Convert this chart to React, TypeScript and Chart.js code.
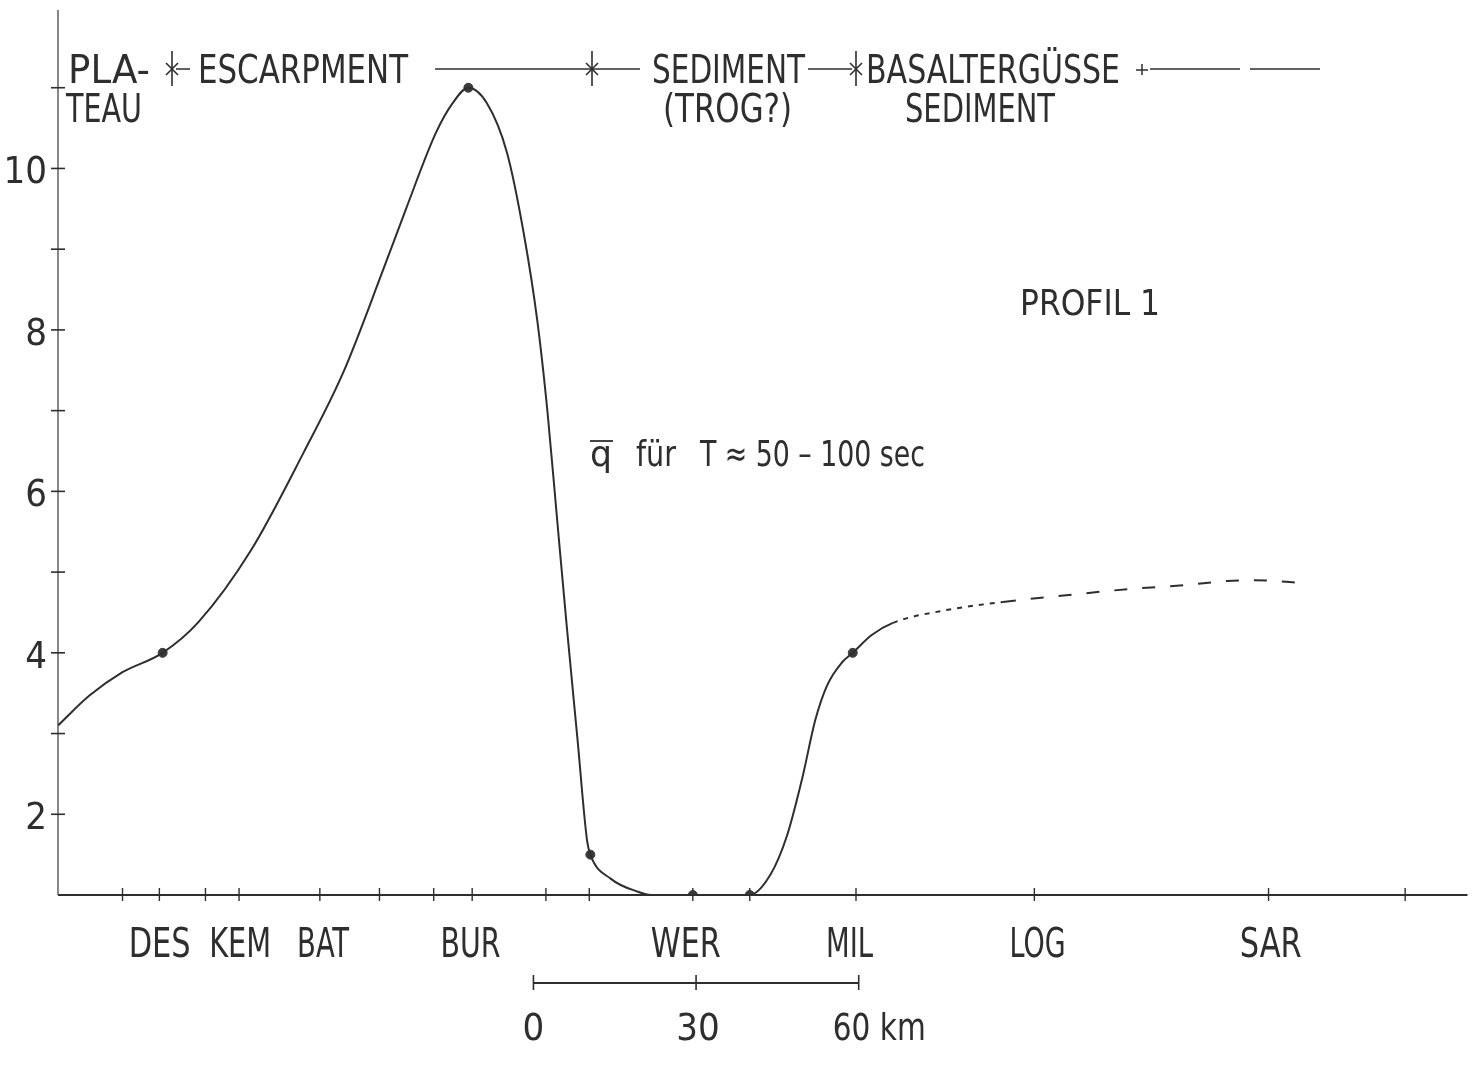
import React, { useEffect, useRef } from "react";
import { Chart, registerables } from "chart.js";

Chart.register(...registerables);

// ---- data (distance along profile in km, q-bar values) ----
const distanceKm = [
  0, 5.8, 11.9, 19.3, 25.9, 35.6, 45.3, 52.6, 59.9, 64.2, 69.7, 72.7, 75.7,
  79.1, 82.8, 85.9, 88.4, 90.3, 92.1, 93.9, 95.8, 97.6, 98.2, 102.0, 107.0,
  109.4, 117.1, 127.6, 131.4, 134.5, 137.3, 139.7, 141.9, 144.6, 146.6, 150.1, 154.0,
  163.1, 174.3, 185.5, 197.6, 208.1, 215.6, 220.8, 228.3,
];
const qValues = [
  3.1, 3.47, 3.76, 4.0, 4.38, 5.27, 6.48, 7.47, 8.73, 9.5, 10.44, 10.8, 11.0,
  10.81, 10.2, 9.2, 8.12, 6.98, 5.63, 4.29, 2.95, 1.67, 1.5, 1.2, 1.04,
  1.0, 1.0, 1.0, 1.25, 1.74, 2.45, 3.17, 3.6, 3.88, 4.0, 4.22, 4.37,
  4.52, 4.63, 4.71, 4.79, 4.84, 4.89, 4.9, 4.87,
];
const markerKm = [19.3, 75.7, 98.2, 117.1, 127.6, 146.6];
const markerQ = [4.0, 11.0, 1.5, 1.0, 1.0, 4.0];
const dottedFromKm = 154.0;
const dashedFromKm = 174.0;

const xTickKm = [11.9, 18.7, 27.2, 33.4, 48.3, 59.3, 69.3, 76.4, 90.0, 98.0, 117.1, 127.6, 147.2, 180.1, 223.3, 248.5];
const stationNames = ["DES", "KEM", "BAT", "BUR", "WER", "MIL", "LOG", "SAR"];
const stationKm = [18.75, 33.6, 48.9, 76.1, 115.8, 146.0, 180.7, 223.7];
const yTickValues = [2, 3, 4, 5, 6, 7, 8, 9, 10, 11];
const yLabelValues = [2, 4, 6, 8, 10];
const scaleBarStartKm = 87.7;
const scaleBarSteps = [0, 30, 60];

const X_MIN = 0;
const X_MAX = 260;
const Y_MIN = 1;
const Y_MAX = 12;

const INK = "#2e2e2e";
const FONT = "'Liberation Sans Narrow', 'DejaVu Sans Condensed', 'Roboto Condensed', 'Liberation Sans', sans-serif";
const STATION_TEXT_WIDTH: Record<string, number> = {
  DES: 62, KEM: 62, BAT: 52, BUR: 60, WER: 70, MIL: 47, LOG: 56, SAR: 62,
};

function seg(ctx: CanvasRenderingContext2D, x1: number, y1: number, x2: number, y2: number, w: number) {
  ctx.lineWidth = w;
  ctx.beginPath();
  ctx.moveTo(x1, y1);
  ctx.lineTo(x2, y2);
  ctx.stroke();
}

function text(
  ctx: CanvasRenderingContext2D,
  t: string,
  x: number,
  y: number,
  w: number | null,
  align: "left" | "center" | "right" = "left",
  size = 37
) {
  ctx.save();
  ctx.font = `${size}px ${FONT}`;
  ctx.textBaseline = "alphabetic";
  ctx.textAlign = align;
  const m = ctx.measureText(t).width;
  const s = w ? w / m : 1;
  ctx.translate(x, y);
  ctx.scale(s, 1);
  ctx.fillText(t, 0, 0);
  ctx.restore();
}

function asterisk(ctx: CanvasRenderingContext2D, x: number, y: number) {
  seg(ctx, x, y - 18, x, y + 17, 1.6);
  seg(ctx, x - 6, y - 6, x + 6, y + 6, 1.6);
  seg(ctx, x - 6, y + 6, x + 6, y - 6, 1.6);
}

const decorPlugin = {
  id: "decor",
  beforeDatasetsDraw(chart: any) {
    const { ctx, chartArea } = chart;
    const xs = chart.scales.x;
    const ys = chart.scales.y;
    ctx.save();
    ctx.strokeStyle = INK;
    ctx.fillStyle = INK;
    ctx.lineCap = "butt";

    const x0 = xs.getPixelForValue(X_MIN);
    const y0 = ys.getPixelForValue(Y_MIN);

    // axes
    seg(ctx, chartArea.left, y0, chartArea.right, y0, 1.8);
    ctx.strokeStyle = "#555";
    seg(ctx, x0, ys.getPixelForValue(Y_MAX) + 3, x0, y0, 1.4);
    ctx.strokeStyle = INK;

    // x ticks
    xTickKm.forEach((k) => {
      const px = xs.getPixelForValue(k);
      seg(ctx, px, y0 - 7, px, y0 + 6, 1.4);
    });
    // y ticks (crosses)
    yTickValues.forEach((v) => {
      const py = ys.getPixelForValue(v);
      seg(ctx, x0 - 7, py, x0 + 7, py, 1.6);
    });
    // y labels
    yLabelValues.forEach((v) => {
      const py = ys.getPixelForValue(v);
      text(ctx, String(v), 47, py + 15, null, "right", 38);
    });
    // station labels
    stationNames.forEach((n, i) => {
      text(ctx, n, xs.getPixelForValue(stationKm[i]), 957, STATION_TEXT_WIDTH[n] ?? null, "center", 40);
    });

    // scale bar
    const sbY = 983;
    const sb = scaleBarSteps.map((d) => xs.getPixelForValue(scaleBarStartKm + d));
    seg(ctx, sb[0], sbY, sb[sb.length - 1], sbY, 1.8);
    sb.forEach((px) => seg(ctx, px, sbY - 8, px, sbY + 7, 1.6));
    text(ctx, "0", sb[0], 1040, null, "center", 38);
    text(ctx, "30", sb[1] + 2, 1040, null, "center", 38);
    text(ctx, "60 km", sb[2] - 26, 1040, 93, "left", 38);

    // top annotation band
    const bandY = 69;
    text(ctx, "PLA-", 68, 83, 82, "left", 39);
    asterisk(ctx, 172, bandY);
    seg(ctx, 176, bandY, 190, bandY, 1.5);
    text(ctx, "TEAU", 66, 122, 76, "left", 39);
    text(ctx, "ESCARPMENT", 198, 83, 210, "left", 39);
    seg(ctx, 435, bandY, 640, bandY, 1.5);
    asterisk(ctx, 592, bandY);
    text(ctx, "SEDIMENT", 652, 83, 153, "left", 39);
    text(ctx, "(TROG?)", 663, 122, 129, "left", 39);
    seg(ctx, 808, bandY, 852, bandY, 1.5);
    asterisk(ctx, 856, bandY);
    text(ctx, "BASALTERGÜSSE", 866, 83, 254, "left", 39);
    text(ctx, "SEDIMENT", 905, 122, 150, "left", 39);
    seg(ctx, 1136, bandY + 1, 1148, bandY + 1, 1.5);
    seg(ctx, 1142, bandY - 5, 1142, bandY + 6, 1.5);
    seg(ctx, 1150, bandY, 1240, bandY, 1.4);
    seg(ctx, 1250, bandY, 1320, bandY, 1.4);

    // profile title and quantity label
    text(ctx, "PROFIL 1", 1020, 315, 140, "left", 35);
    text(ctx, "q", 590, 466, 22, "left", 36);
    seg(ctx, 590, 441, 613, 441, 1.8);
    text(ctx, "für", 636, 466, 40, "left", 36);
    text(ctx, "T ≈ 50 – 100 sec", 700, 466, 225, "left", 36);

    ctx.restore();
  },
};

export default function App() {
  const ref = useRef<HTMLCanvasElement | null>(null);

  useEffect(() => {
    if (!ref.current) return;
    const chart = new Chart(ref.current, {
      type: "line",
      data: {
        datasets: [
          {
            label: "q",
            data: distanceKm.map((d, i) => ({ x: d, y: qValues[i] })),
            borderColor: INK,
            borderWidth: 2,
            pointRadius: 0,
            cubicInterpolationMode: "monotone",
            fill: false,
            segment: {
              borderDash: (c: any) =>
                c.p0.parsed.x >= dashedFromKm ? [13, 15] : c.p0.parsed.x >= dottedFromKm ? [5, 6] : undefined,
            },
          } as any,
          {
            type: "scatter",
            label: "stations",
            data: markerKm.map((d, i) => ({ x: d, y: markerQ[i] })),
            backgroundColor: "#3a3a3a",
            borderColor: "#3a3a3a",
            pointRadius: 4.5,
            showLine: false,
          } as any,
        ],
      },
      options: {
        responsive: false,
        animation: false,
        events: [],
        devicePixelRatio: 1,
        layout: { padding: { left: 58, top: 7, right: 0, bottom: 171 } },
        scales: {
          x: { type: "linear", min: X_MIN, max: X_MAX, display: false },
          y: { type: "linear", min: Y_MIN, max: Y_MAX, display: false },
        },
        plugins: {
          legend: { display: false },
          tooltip: { enabled: false },
        },
      },
      plugins: [decorPlugin],
    });
    return () => chart.destroy();
  }, []);

  return (
    <div style={{ position: "absolute", left: 0, top: 0, width: 1473, height: 1066, background: "#fff" }}>
      <canvas ref={ref} width={1473} height={1066} />
    </div>
  );
}
